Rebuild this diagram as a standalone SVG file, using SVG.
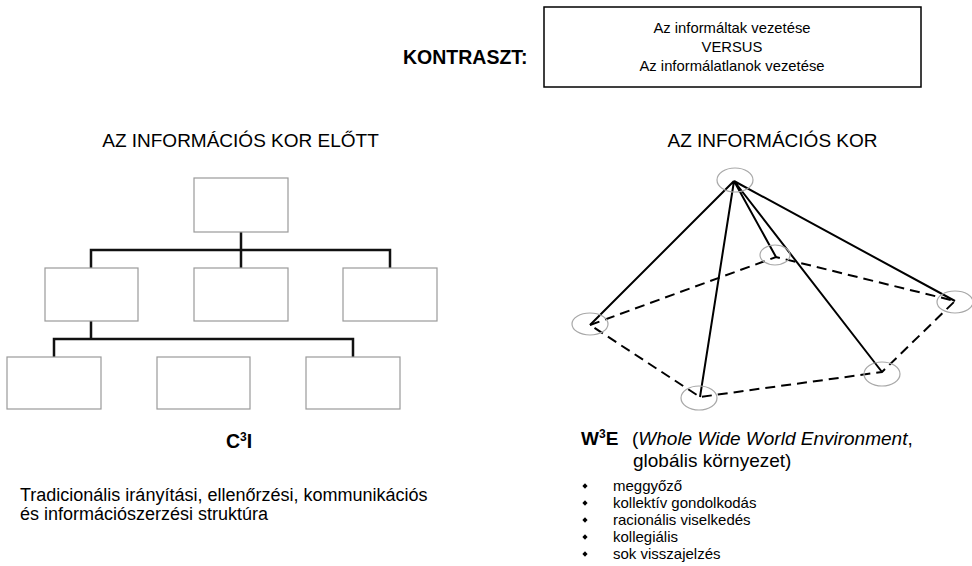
<svg xmlns="http://www.w3.org/2000/svg" width="972" height="566" viewBox="0 0 972 566">
  <style>
    text { font-family: "Liberation Sans", Arial, sans-serif; fill: #000; }
    .box { fill: #fff; stroke: #9a9a9a; stroke-width: 1.2; }
    .tree { fill: none; stroke: #111; stroke-width: 2.5; }
    .node { fill: none; stroke: #a8a8a8; stroke-width: 1.2; }
    .edge { fill: none; stroke: #000; stroke-width: 2; }
    .ring { fill: none; stroke: #000; stroke-width: 2; stroke-dasharray: 10 6; }
    .h { font-size: 19px; }
    .b { font-weight: bold; }
    .li { font-size: 15px; }
    .ct { font-size: 14.8px; text-anchor: middle; }
  </style>
  <defs>
    <path id="dot" d="M0 -2.8 L2.6 0 L0 2.8 L-2.6 0 Z"/>
  </defs>
  <rect width="972" height="566" fill="#fff"/>

  <!-- header -->
  <text class="b" x="403" y="64" font-size="19.5">KONTRASZT:</text>
  <g id="contrast-box">
    <rect x="544" y="7" width="377" height="80" fill="#fff" stroke="#000" stroke-width="1.5"/>
    <text class="ct" x="732" y="33">Az informáltak vezetése</text>
    <text class="ct" x="732" y="52">VERSUS</text>
    <text class="ct" x="732" y="71">Az informálatlanok vezetése</text>
  </g>

  <!-- left: hierarchy -->
  <text class="h" x="240.5" y="147" text-anchor="middle">AZ INFORMÁCIÓS KOR ELŐTT</text>
  <g id="tree-links">
    <path class="tree" d="M241 232 V268 M91 268 V250 H390 V268 M91 321 V339 M54 357 V339 H353 V357"/>
  </g>
  <g id="n-top"><rect class="box" x="194" y="178" width="94" height="54"/></g>
  <g id="n-mid1"><rect class="box" x="45" y="268" width="93" height="53"/></g>
  <g id="n-mid2"><rect class="box" x="194" y="268" width="94" height="53"/></g>
  <g id="n-mid3"><rect class="box" x="343" y="268" width="94" height="53"/></g>
  <g id="n-low1"><rect class="box" x="7" y="357" width="94" height="52"/></g>
  <g id="n-low2"><rect class="box" x="157" y="357" width="93" height="52"/></g>
  <g id="n-low3"><rect class="box" x="306" y="357" width="94" height="52"/></g>

  <text class="b" x="239" y="448" font-size="19.5" text-anchor="middle">C<tspan font-size="12" dy="-7">3</tspan><tspan dy="7">I</tspan></text>
  <text x="20" y="501" font-size="18">Tradicionális irányítási, ellenőrzési, kommunikációs</text>
  <text x="20" y="520" font-size="18">és információszerzési struktúra</text>

  <!-- right: network -->
  <text class="h" x="772.5" y="147" text-anchor="middle">AZ INFORMÁCIÓS KOR</text>
  <g id="net-links">
    <path class="ring" d="M590 325 L776 257 L955 301 L882 372 L700 397 Z"/>
    <path class="edge" d="M734 181 L590 325 M734 181 L700 397 M734 181 L776 257 M734 181 L882 372 M734 181 L955 301"/>
  </g>
  <g id="p-apex"><ellipse class="node" cx="735" cy="180" rx="18" ry="12"/></g>
  <g id="p-left"><ellipse class="node" cx="590" cy="324" rx="18" ry="11"/></g>
  <g id="p-back"><ellipse class="node" cx="775" cy="255" rx="15" ry="10"/></g>
  <g id="p-right"><ellipse class="node" cx="955" cy="302" rx="18" ry="11"/></g>
  <g id="p-front-right"><ellipse class="node" cx="882" cy="374" rx="18" ry="12"/></g>
  <g id="p-front"><ellipse class="node" cx="699" cy="398" rx="18" ry="12"/></g>

  <g id="legend">
    <text class="b" x="581" y="445" font-size="19">W<tspan font-size="12" dy="-7">3</tspan><tspan dy="7">E</tspan></text>
    <text x="632" y="445" font-size="19">(<tspan font-style="italic">Whole Wide World Environment</tspan>,</text>
    <text x="633" y="467" font-size="19">globális környezet)</text>
    <g fill="#000">
      <use href="#dot" x="585" y="486"/>
      <use href="#dot" x="585" y="503"/>
      <use href="#dot" x="585" y="520"/>
      <use href="#dot" x="585" y="537"/>
      <use href="#dot" x="585" y="554"/>
    </g>
    <text class="li" x="613" y="491">meggyőző</text>
    <text class="li" x="613" y="508">kollektív gondolkodás</text>
    <text class="li" x="613" y="525">racionális viselkedés</text>
    <text class="li" x="613" y="542">kollegiális</text>
    <text class="li" x="613" y="559">sok visszajelzés</text>
  </g>
</svg>
